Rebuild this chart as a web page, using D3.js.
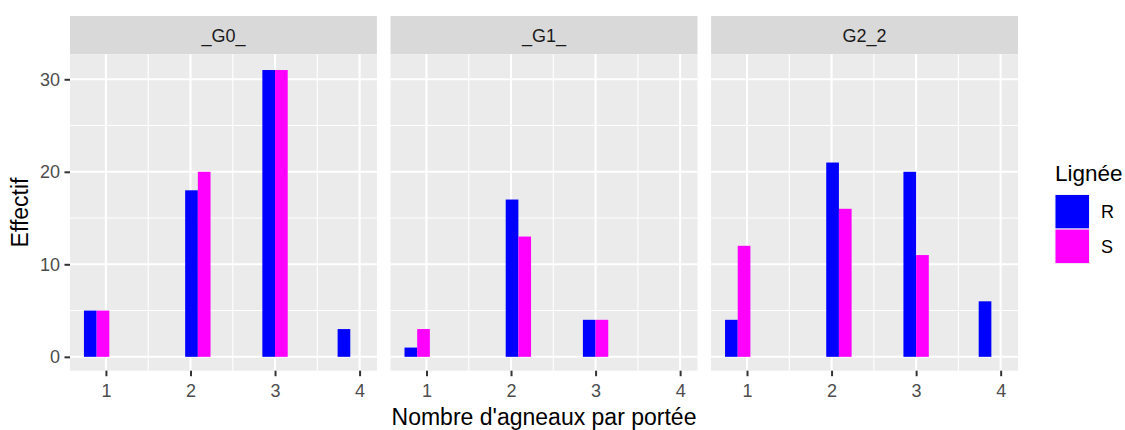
<!DOCTYPE html>
<html>
<head>
<meta charset="utf-8">
<script src="https://cdn.jsdelivr.net/npm/d3@7"></script>
<style>
  html, body { margin: 0; padding: 0; background: #fff; }
  svg { display: block; font-family: "Liberation Sans", Arial, sans-serif; }
</style>
</head>
<body>
<svg id="chart" width="1125" height="430"></svg>
<script>
// ---- data ----
const groups = ["_G0_", "_G1_", "G2_2"];
const lineages = ["R", "S"];
const litterSizes = [1, 2, 3, 4];          // tick labels on x
const binCenters = [0.89, 2.087, 3.0, 3.89]; // histogram bin centres (x units)
const valuesR_G0 = [5, 18, 31, 3];
const valuesS_G0 = [5, 20, 31, 0];
const valuesR_G1 = [1, 17, 4, 0];
const valuesS_G1 = [3, 13, 4, 0];
const valuesR_G2 = [4, 21, 20, 6];
const valuesS_G2 = [12, 16, 11, 0];
const yTicks = [0, 10, 20, 30];
const yMinor = [5, 15, 25];
const xMinor = [1.5, 2.5, 3.5];
const colors = { R: "#0000FF", S: "#FF00FF" };

const seriesByGroup = {
  "_G0_": { R: valuesR_G0, S: valuesS_G0 },
  "_G1_": { R: valuesR_G1, S: valuesS_G1 },
  "G2_2": { R: valuesR_G2, S: valuesS_G2 }
};

const svg = d3.select("#chart");

const panelTop = 54.3, panelBottom = 370.7;
const stripTop = 16;
const panelBand = d3.scaleBand().domain(groups).range([70, 1018]).paddingInner(0.0425).paddingOuter(0);
const bw = panelBand.bandwidth();
const y = d3.scaleLinear().domain([-1.5, 32.7]).range([panelBottom, panelTop]);
const x = d3.scaleLinear().domain([0.575, 4.205]).range([0, bw]);
const halfBar = 0.15; // bar width in x units (each dodge slot)

groups.forEach(g => {
  const gx = panelBand(g);
  const p = svg.append("g").attr("transform", `translate(${gx},0)`);
  // strip
  p.append("rect").attr("x", 0).attr("y", stripTop).attr("width", bw).attr("height", panelTop - stripTop).attr("fill", "#D9D9D9");
  p.append("text").attr("x", bw / 2).attr("y", (stripTop + panelTop) / 2 + 6.5)
    .attr("text-anchor", "middle").attr("font-size", 18).attr("fill", "#1A1A1A").text(g);
  // panel bg
  p.append("rect").attr("x", 0).attr("y", panelTop).attr("width", bw).attr("height", panelBottom - panelTop).attr("fill", "#EBEBEB");
  // minor grid
  p.selectAll(".ymin").data(yMinor).join("line")
    .attr("x1", 0).attr("x2", bw).attr("y1", d => y(d)).attr("y2", d => y(d))
    .attr("stroke", "#fff").attr("stroke-width", 1.1);
  p.selectAll(".xmin").data(xMinor).join("line")
    .attr("y1", panelTop).attr("y2", panelBottom).attr("x1", d => x(d)).attr("x2", d => x(d))
    .attr("stroke", "#fff").attr("stroke-width", 1.1);
  // major grid
  p.selectAll(".ymaj").data(yTicks).join("line")
    .attr("x1", 0).attr("x2", bw).attr("y1", d => y(d)).attr("y2", d => y(d))
    .attr("stroke", "#fff").attr("stroke-width", 2.1);
  p.selectAll(".xmaj").data(litterSizes).join("line")
    .attr("y1", panelTop).attr("y2", panelBottom).attr("x1", d => x(d)).attr("x2", d => x(d))
    .attr("stroke", "#fff").attr("stroke-width", 2.1);
  // bars
  lineages.forEach((l, li) => {
    const vals = seriesByGroup[g][l];
    const rows = binCenters.map((c, i) => ({ c, v: vals[i] })).filter(d => d.v > 0);
    p.selectAll(".bar" + l).data(rows).join("rect")
      .attr("x", d => x(d.c + (li - 1) * halfBar))
      .attr("width", d => x(d.c + li * halfBar) - x(d.c + (li - 1) * halfBar))
      .attr("y", d => y(d.v))
      .attr("height", d => y(0) - y(d.v))
      .attr("fill", colors[l]);
  });
  // x axis
  const xa = p.append("g").attr("transform", `translate(0,${panelBottom})`)
    .call(d3.axisBottom(x).tickValues(litterSizes).tickFormat(d3.format("d")).tickSize(5.5).tickPadding(8.5));
  xa.select(".domain").remove();
  xa.selectAll("line").attr("stroke", "#333333").attr("stroke-width", 2);
  xa.selectAll("text").attr("font-size", 18).attr("fill", "#4D4D4D").attr("font-family", "Liberation Sans, Arial, sans-serif");
  if (g === groups[0]) {
    const ya = p.append("g").call(d3.axisLeft(y).tickValues(yTicks).tickSize(5.5).tickPadding(4.5));
    ya.select(".domain").remove();
    ya.selectAll("line").attr("stroke", "#333333").attr("stroke-width", 2);
    ya.selectAll("text").attr("font-size", 18).attr("fill", "#4D4D4D").attr("font-family", "Liberation Sans, Arial, sans-serif");
  }
});

// axis titles
svg.append("text").attr("x", (70 + 1018) / 2).attr("y", 425)
  .attr("text-anchor", "middle").attr("font-size", 23).attr("fill", "#000")
  .text("Nombre d'agneaux par portée");
svg.append("text").attr("transform", `translate(28,${(panelTop + panelBottom) / 2}) rotate(-90)`)
  .attr("text-anchor", "middle").attr("font-size", 23).attr("fill", "#000")
  .text("Effectif");

// legend
const lg = svg.append("g").attr("transform", "translate(1055,0)");
lg.append("text").attr("x", 0).attr("y", 181).attr("font-size", 22.5).attr("fill", "#000").text("Lignée");
const keyY = d3.scaleBand().domain(lineages).range([194.5, 263.6]);
lineages.forEach(l => {
  lg.append("rect").attr("x", 0).attr("y", keyY(l)).attr("width", 34.5).attr("height", keyY.bandwidth())
    .attr("fill", colors[l]).attr("stroke", "#F2F2F2").attr("stroke-width", 1);
  lg.append("text").attr("x", 46).attr("y", keyY(l) + keyY.bandwidth() / 2 + 6.5)
    .attr("font-size", 18).attr("fill", "#000").text(l);
});
</script>
</body>
</html>
